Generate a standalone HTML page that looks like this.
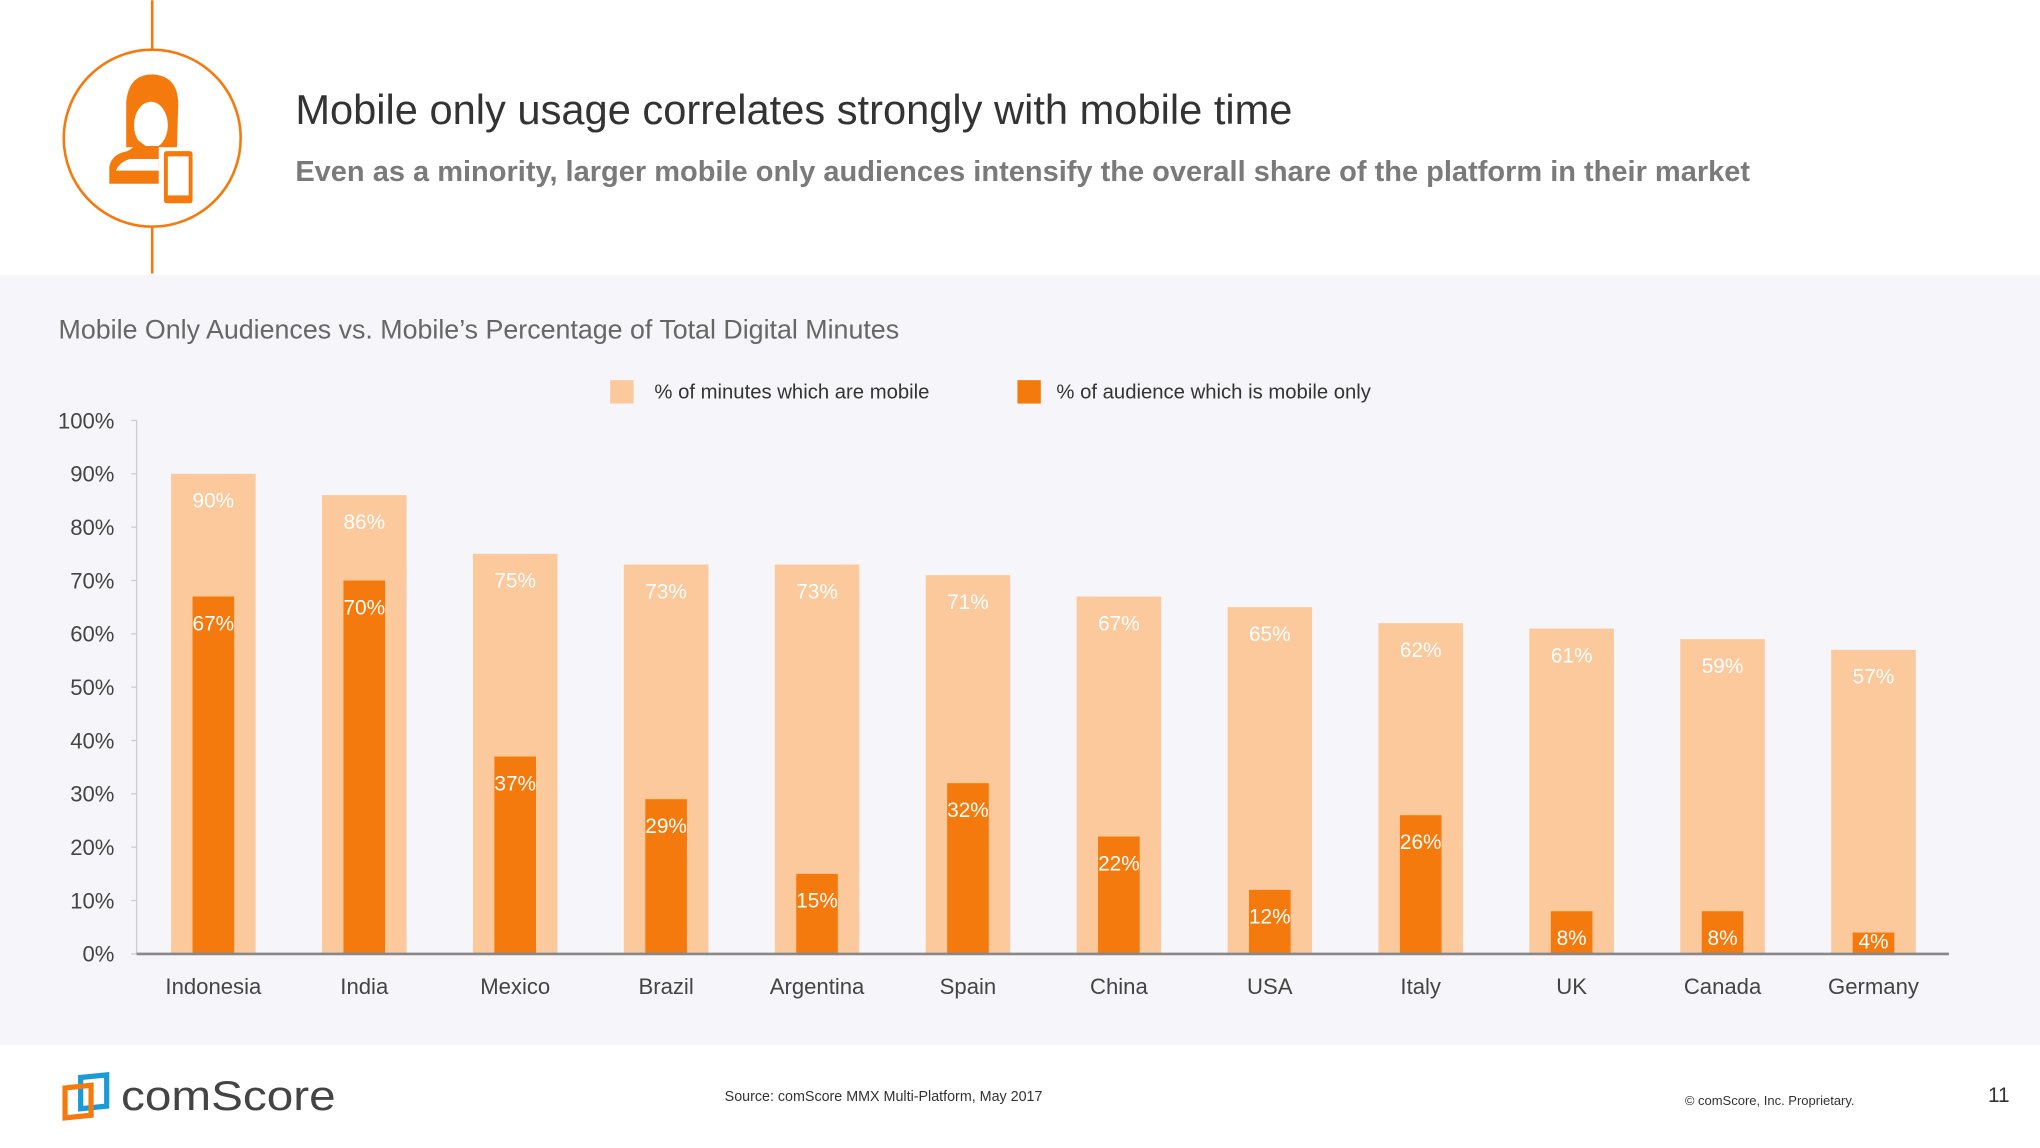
<!DOCTYPE html>
<html><head><meta charset="utf-8"><style>
html,body{margin:0;padding:0;background:#fff;}
svg{display:block;font-family:"Liberation Sans",sans-serif;}
</style></head><body>
<svg id="page" width="2040" height="1148" viewBox="0 0 1568 882" xmlns="http://www.w3.org/2000/svg">
<rect x="0" y="0" width="1568" height="882" fill="#ffffff"/>
<rect x="0" y="211" width="1568" height="592" fill="#f6f6fa"/>
<g>
<line x1="117" y1="0" x2="117" y2="210" stroke="#f57a0e" stroke-width="2"/>
<circle cx="117" cy="106" r="68" fill="#fff" stroke="#f57a0e" stroke-width="2"/>
<path d="M97 113 L97 78 Q99 57 117 57 Q137 58 137 80 L136 113 Z" fill="#f57a0e"/>
<ellipse cx="116" cy="96" rx="13" ry="18" fill="#fff"/>
<path d="M84 141 L84 128 Q86 118 98 116 L104 112 L104 106 L112 112 L122 112 L122 141 Z" fill="#f57a0e"/>
<path d="M89 131 Q92 124 100 122 L122 122 L122 131 Z" fill="#fff"/>
<rect x="126" y="116" width="22" height="40" rx="2" fill="#f57a0e"/>
<rect x="129" y="120" width="16" height="30" fill="#fff"/>
</g>
<text x="227" y="95" font-size="32" fill="#333">Mobile only usage correlates strongly with mobile time</text>
<text x="227" y="139" font-size="22.3" font-weight="bold" fill="#7a7a7a">Even as a minority, larger mobile only audiences intensify the overall share of the platform in their market</text>
<text x="45" y="260" font-size="20.6" fill="#666">Mobile Only Audiences vs. Mobile’s Percentage of Total Digital Minutes</text>
<g>
<rect x="469" y="292" width="18" height="18" fill="#fbc99c"/>
<text x="503" y="306" font-size="15.6" fill="#333">% of minutes which are mobile</text>
<rect x="782" y="292" width="18" height="18" fill="#f57a0e"/>
<text x="812" y="306" font-size="15.6" fill="#333">% of audience which is mobile only</text>
</g>
<g id="chart"></g>
<g>
<g>
<path d="M62 828 L82 826 L82 850 L62 852 Z" fill="none" stroke="#1a9ad6" stroke-width="4"/>
<path d="M50 836 L70 834 L70 857 L50 859 Z" fill="none" stroke="#f57a0e" stroke-width="4"/>
<text x="93" y="853" font-size="32" fill="#444" textLength="165" lengthAdjust="spacingAndGlyphs">comScore</text>
</g>
<text x="557" y="846" font-size="11" fill="#333">Source: comScore MMX Multi-Platform, May 2017</text>
<text x="1295" y="849" font-size="10" fill="#333">© comScore, Inc. Proprietary.</text>
<text x="1528" y="847" font-size="16" fill="#333">11</text>
</g>
</svg>
<script>
const categories = ["Indonesia","India","Mexico","Brazil","Argentina","Spain","China","USA","Italy","UK","Canada","Germany"];
const minutesMobile = [90,86,75,73,73,71,67,65,62,61,59,57];
const audienceMobileOnly = [67,70,37,29,15,32,22,12,26,8,8,4];
const yTicks = [0,10,20,30,40,50,60,70,80,90,100];

const NS = "http://www.w3.org/2000/svg";
const g = document.getElementById("chart");
const y0 = 733, y100 = 323, axisX = 105, axisEnd = 1498, firstX = 164, step = 116;
const yScale = v => y0 - (y0 - y100) * v / 100;
const xScale = i => firstX + i * step;
function mk(tag, attrs, text) {
  const e = document.createElementNS(NS, tag);
  for (const k in attrs) e.setAttribute(k, attrs[k]);
  if (text !== undefined) e.textContent = text;
  g.appendChild(e);
  return e;
}
const yAxis = mk("line", {x1: axisX, y1: y100, x2: axisX, y2: y0, stroke: "#ccc", "stroke-width": 1});


yTicks.forEach(t => {
  const lbl = mk("text", {x: 88, y: yScale(t) + 6, "font-size": 17, fill: "#444", "text-anchor": "end"}, t + "%");
  
  
  const tk = mk("line", {x1: axisX - 4, y1: yScale(t), x2: axisX, y2: yScale(t), stroke: "#ccc", "stroke-width": 1});
  
  
});
categories.forEach((c, i) => {
  const cx = xScale(i);
  const tm = yScale(minutesMobile[i]);
  const b1 = mk("rect", {x: cx - 32.5, y: tm, width: 65, height: y0 - tm, fill: "#fbc99c"});
  
  
  const l1 = mk("text", {x: cx, y: tm + 26, "font-size": 16, fill: "#fff", "text-anchor": "middle"}, minutesMobile[i] + "%");
  
  
  const ta = yScale(audienceMobileOnly[i]);
  const b2 = mk("rect", {x: cx - 16, y: ta, width: 32, height: y0 - ta, fill: "#f57a0e"});
  
  
  const l2 = mk("text", {x: cx, y: Math.min(ta + 26, y0 - 4), "font-size": 16, fill: "#fff", "text-anchor": "middle"}, audienceMobileOnly[i] + "%");
  
  
  const cl = mk("text", {x: cx, y: 764, "font-size": 17, fill: "#444", "text-anchor": "middle"}, c);
  
  
});
const xAxis = mk("line", {x1: axisX, y1: y0, x2: axisEnd, y2: y0, stroke: "#888", "stroke-width": 2});


</script>
</body></html>
